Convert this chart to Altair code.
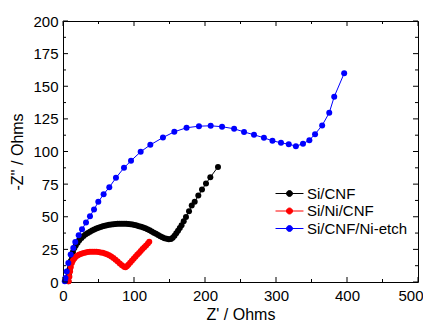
import altair as alt
import pandas as pd

series_names = ["Si/CNF", "Si/Ni/CNF", "Si/CNF/Ni-etch"]
series_colors = ["#000000", "#ff0000", "#0000ff"]

cnf_x = [7.5, 8.5, 9.5, 11, 12.5, 14, 16, 18, 20.5, 23, 26, 29, 32, 35, 38, 41, 44, 47, 50, 53,
         56, 59, 62, 65, 68, 71, 74, 77, 80, 83, 86, 89, 92, 95, 98, 101, 104, 107, 110, 113,
         116, 119, 122, 125, 128, 131, 134, 137, 140, 143, 146, 149, 152, 154.5, 157, 159.5,
         162, 164.5, 167, 170, 173.2, 177.5, 181.3, 185.5, 190.6, 195.8, 201.4, 207.5, 218.3]
cnf_y = [0.5, 5, 10, 16, 20, 23, 26, 28, 30, 32, 33.7, 35.2, 36.5, 37.6, 38.6, 39.5, 40.3, 41, 41.6, 42.2,
         42.7, 43.1, 43.5, 43.8, 44.1, 44.3, 44.5, 44.6, 44.7, 44.7, 44.7, 44.6, 44.5, 44.3, 44, 43.7, 43.3, 42.8, 42.3, 41.7,
         41.1, 40.4, 39.6, 38.7, 37.8, 36.9, 36, 35.1, 34.3, 33.6, 33.1, 32.8, 33, 34, 35.5, 37.3,
         39.3, 41.3, 43.5, 46.5, 49.9, 54.2, 58.6, 61.4, 66.2, 70.8, 75.4, 80.3, 88.2]

nicnf_x = [8, 9, 10, 11, 12.5, 14, 16, 18, 20.5, 23, 26, 29, 32, 35, 38, 41, 44, 47, 50, 53,
           56, 59, 62, 65, 68, 71, 74, 77, 80, 83, 86, 88, 90, 92, 94.5, 97, 99.5, 102, 104.5, 107,
           109.5, 112, 114.5, 117, 119.5, 121.5]
nicnf_y = [0.5, 4, 8, 11.5, 14.5, 16.5, 18, 19.3, 20.3, 21, 21.7, 22.2, 22.6, 22.9, 23.1, 23.2, 23.2, 23.1, 23, 22.7,
           22.4, 21.9, 21.3, 20.5, 19.5, 18.4, 17.1, 15.7, 14.2, 12.8, 11.7, 11.3, 12, 13.3, 14.8, 16.3, 17.8, 19.3, 20.8, 22.3,
           23.8, 25.2, 26.6, 28, 29.5, 30.8]

etch_x = [2.5, 3.5, 5.2, 7.5, 10.8, 14.5, 17.3, 22.1, 26.8, 32.4, 38, 43.7, 49.7, 57.2, 65.2, 74.6, 85.9,
          95.8, 109.4, 123, 140.8, 156.8, 174, 191.5, 208, 224, 241, 255, 269, 283, 295, 307, 318, 328,
          338, 347, 355, 365, 375, 382, 396]
etch_y = [0.5, 3, 8.1, 14.6, 21, 26, 30.7, 35.8, 40.4, 45.5, 50.4, 55.5, 61.4, 67.2, 72.6, 79.8, 87.5,
          92.9, 99.8, 105.1, 110.7, 115.1, 118.2, 119.4, 119.7, 119, 117.4, 115, 112.8, 110.5, 108.2, 106.7, 105.6, 104.1,
          105.9, 108.7, 113.3, 120, 129.7, 142, 159.9]

x_major_ticks = [0, 100, 200, 300, 400, 500]
x_minor_ticks = [50, 150, 250, 350, 450]
y_major_ticks = [0, 25, 50, 75, 100, 125, 150, 175, 200]
y_minor_ticks = [12.5, 37.5, 62.5, 87.5, 112.5, 137.5, 162.5, 187.5]

W, H = 355, 261
FONT = "Liberation Sans"

rows = []
for name, xs, ys in zip(series_names, [cnf_x, nicnf_x, etch_x], [cnf_y, nicnf_y, etch_y]):
    for i, (a, b) in enumerate(zip(xs, ys)):
        rows.append({"series": name, "zr": a, "zi": b, "idx": i})
df = pd.DataFrame(rows)

xsc = alt.Scale(domain=[0, 500], nice=False, zero=False)
ysc = alt.Scale(domain=[0, 200], nice=False, zero=False)
csc = alt.Scale(domain=series_names, range=series_colors)

legend_symbol = ("M-2.33,0L2.33,0"
                 "M-0.5,0A0.5,0.5,0,1,0,0.5,0A0.5,0.5,0,1,0,-0.5,0Z"
                 "M-0.33,0A0.33,0.33,0,1,0,0.33,0A0.33,0.33,0,1,0,-0.33,0Z"
                 "M-0.17,0A0.17,0.17,0,1,0,0.17,0A0.17,0.17,0,1,0,-0.17,0Z")

x_axis = alt.Axis(values=x_major_ticks, ticks=False, domain=False, grid=False,
                  labelPadding=6, titlePadding=3, labelFlush=False,
                  labelAlign=alt.condition("datum.value == 500", alt.value("right"), alt.value("center")),
                  labelOffset=alt.condition("datum.value == 500", alt.value(5), alt.value(0)))
y_axis = alt.Axis(values=y_major_ticks, ticks=False, domain=False, grid=False,
                  labelPadding=5, titlePadding=7, labelFlush=False)

lines = alt.Chart(df).mark_line(strokeWidth=1).encode(
    x=alt.X("zr:Q", scale=xsc, title="Z' / Ohms", axis=x_axis),
    y=alt.Y("zi:Q", scale=ysc, title="-Z'' / Ohms", axis=y_axis),
    color=alt.Color("series:N", scale=csc, sort=series_names,
                    legend=alt.Legend(title=None, orient="none", legendX=219, legendY=165,
                                      symbolType=legend_symbol, symbolSize=144,
                                      symbolStrokeWidth=1, labelOffset=10,
                                      labelFont=FONT, labelFontSize=15, labelColor="black",
                                      rowPadding=1.5, padding=0)),
    detail="series:N",
    order="idx:Q",
)

points = alt.Chart(df).mark_point(filled=True, size=36, opacity=1).encode(
    x=alt.X("zr:Q", scale=xsc, title="Z' / Ohms", axis=x_axis),
    y=alt.Y("zi:Q", scale=ysc, title="-Z'' / Ohms", axis=y_axis),
    color=alt.Color("series:N", scale=csc, legend=None),
)


def xticks(vals, length):
    d = pd.DataFrame({"v": vals})
    bot = alt.Chart(d).mark_rule(color="black", strokeWidth=1).encode(
        x=alt.X("v:Q", scale=xsc, title="Z' / Ohms", axis=x_axis), y=alt.value(H), y2=alt.value(H - length))
    top = alt.Chart(d).mark_rule(color="black", strokeWidth=1).encode(
        x=alt.X("v:Q", scale=xsc, title="Z' / Ohms", axis=x_axis), y=alt.value(0), y2=alt.value(length))
    return [bot, top]


def yticks(vals, length):
    d = pd.DataFrame({"v": vals})
    left = alt.Chart(d).mark_rule(color="black", strokeWidth=1).encode(
        y=alt.Y("v:Q", scale=ysc, title="-Z'' / Ohms", axis=y_axis), x=alt.value(0), x2=alt.value(length))
    right = alt.Chart(d).mark_rule(color="black", strokeWidth=1).encode(
        y=alt.Y("v:Q", scale=ysc, title="-Z'' / Ohms", axis=y_axis), x=alt.value(W), x2=alt.value(W - length))
    return [left, right]


tick_layers = (xticks(x_major_ticks, 5) + xticks(x_minor_ticks, 3)
               + yticks(y_major_ticks, 5) + yticks(y_minor_ticks, 3))

chart = alt.layer(lines, points, *tick_layers).properties(
    width=W, height=H, autosize="none",
    padding={"left": 55, "top": 13, "right": 5, "bottom": 39},
    background="white",
).configure_view(
    stroke="black", strokeWidth=1
).configure_axis(
    labelFont=FONT, labelFontSize=15, labelColor="black",
    titleFont=FONT, titleFontSize=16, titleFontWeight="normal", titleColor="black",
)

chart.save("out.html", embed_options={"renderer": "svg", "actions": False})
